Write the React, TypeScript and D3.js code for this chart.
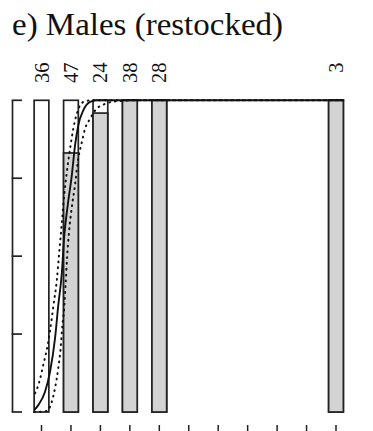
import * as d3 from "d3";

// bar positions (category index), counts printed on top, proportion filled grey
const categories = [0, 1, 2, 3, 4, 10];
const counts = [36, 47, 24, 38, 28, 3];
const proportions = [0, 0.831, 0.959, 1, 1, 1];
const xTicks = [0, 1, 2, 3, 4, 5, 6, 7, 8, 9, 10];
const yTicks = [0, 0.25, 0.5, 0.75, 1];

// fitted curve
const fitX = [-0.245, -0.11, 0.12, 0.29, 0.46, 0.57, 0.69, 0.77, 0.89, 1.03, 1.14, 1.25, 1.42, 1.65, 1.87, 10.25];
const fitY = [0.006, 0.022, 0.065, 0.129, 0.237, 0.343, 0.445, 0.562, 0.663, 0.76, 0.856, 0.92, 0.968, 0.995, 1, 1];

// upper and lower confidence bands
const upperX = [-0.22, -0.085, 0.06, 0.21, 0.35, 0.4, 0.52, 0.6, 0.69, 0.77, 0.86, 0.97, 1.08, 1.2, 1.31, 1.48, 1.7, 10.25];
const upperY = [0.06, 0.093, 0.151, 0.215, 0.301, 0.338, 0.423, 0.51, 0.606, 0.696, 0.77, 0.845, 0.909, 0.957, 0.984, 0.997, 1, 1];
const lowerX = [-0.25, 0.18, 0.35, 0.46, 0.57, 0.65, 0.71, 0.77, 0.82, 0.87, 0.94, 1.03, 1.14, 1.22, 1.37, 1.48, 1.65, 1.87, 2.1, 2.38, 2.72, 3.17, 10.25];
const lowerY = [0, 0.003, 0.033, 0.077, 0.141, 0.205, 0.279, 0.333, 0.413, 0.498, 0.583, 0.658, 0.73, 0.795, 0.866, 0.909, 0.941, 0.973, 0.986, 0.995, 0.998, 1, 1];

const width = 373;
const height = 431;
const ink = "#222";
const font = "'Liberation Serif', 'Times New Roman', serif";

export default function App() {
  const x = d3.scaleLinear().domain([0, 10]).range([41.5, 336]);
  const y = d3.scaleLinear().domain([0, 1]).range([412, 100.3]);
  const barW = x(0.5) - x(0);

  const line = d3
    .line<[number, number]>()
    .x((d) => x(d[0]))
    .y((d) => y(d[1]))
    .curve(d3.curveMonotoneX);

  const zip = (a: number[], b: number[]) => a.map((v, i) => [v, b[i]] as [number, number]);

  return (
    <svg
      width={width}
      height={height}
      style={{ position: "absolute", left: 0, top: 0, background: "#fff" }}
      fontFamily={font}
    >
      <text x={12} y={34.5} fontSize={30.5} textLength={271} lengthAdjust="spacingAndGlyphs" fill="#111">
        e) Males (restocked)
      </text>

      {/* left axis, ticks pointing in */}
      <line x1={12.5} x2={12.5} y1={y(0)} y2={y(1)} stroke={ink} strokeWidth={1.7} />
      {yTicks.map((t) => (
        <line key={t} x1={11.7} x2={22} y1={y(t)} y2={y(t)} stroke={ink} strokeWidth={1.7} />
      ))}

      {/* bottom ticks */}
      {xTicks.map((t) => (
        <line key={t} x1={x(t)} x2={x(t)} y1={425} y2={436} stroke={ink} strokeWidth={1.5} />
      ))}

      {/* bars */}
      {categories.map((c, i) => (
        <g key={c}>
          <rect
            x={x(c) - barW / 2}
            y={y(1)}
            width={barW}
            height={y(0) - y(1)}
            fill="#fff"
            stroke={ink}
            strokeWidth={1.7}
          />
          {proportions[i] > 0 && (
            <rect
              x={x(c) - barW / 2}
              y={y(proportions[i])}
              width={barW}
              height={y(0) - y(proportions[i])}
              fill="#d3d3d3"
              stroke={ink}
              strokeWidth={1.7}
            />
          )}
          <text
            transform={`translate(${x(c) + 7},62.5) rotate(-90)`}
            fontSize={20.5}
            textAnchor="end"
            fill="#111"
          >
            {counts[i]}
          </text>
        </g>
      ))}

      {/* fitted curve and bands */}
      <path d={line(zip(upperX, upperY)) ?? ""} fill="none" stroke="#111" strokeWidth={2} strokeDasharray="0.8 5" strokeLinecap="round" />
      <path d={line(zip(lowerX, lowerY)) ?? ""} fill="none" stroke="#111" strokeWidth={2} strokeDasharray="0.8 5" strokeLinecap="round" />
      <path d={line(zip(fitX, fitY)) ?? ""} fill="none" stroke="#111" strokeWidth={1.9} />
    </svg>
  );
}
